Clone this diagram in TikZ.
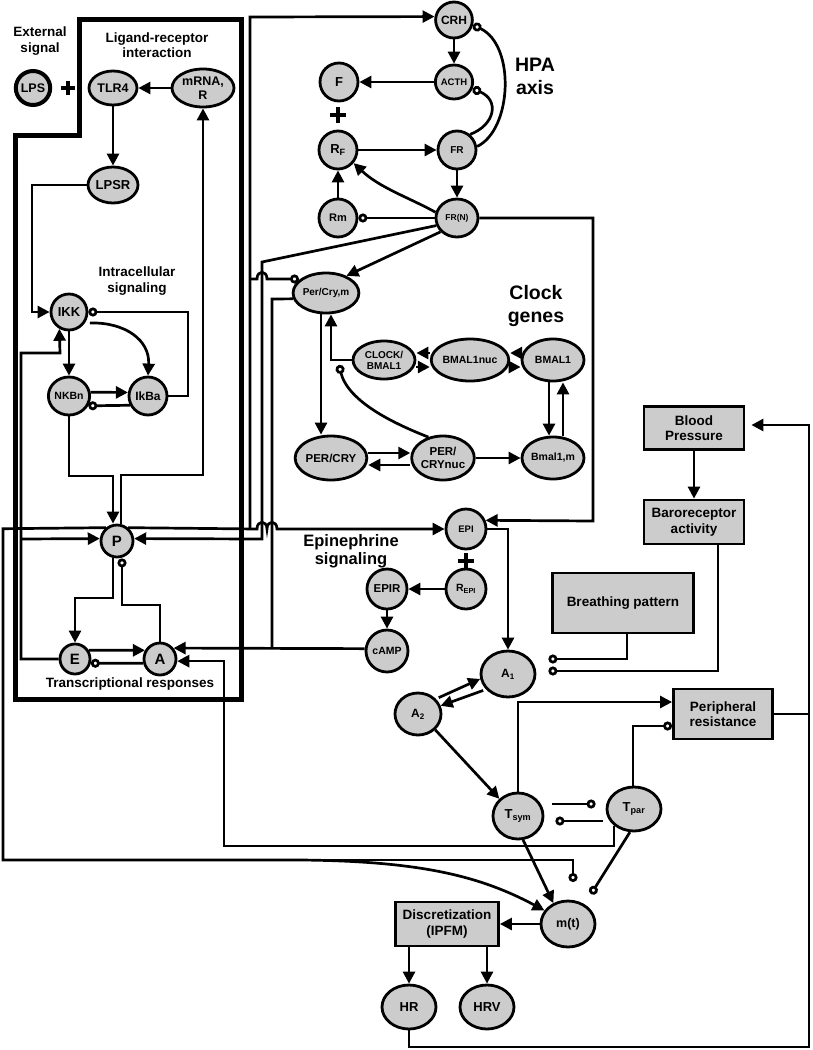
\documentclass[tikz,border=0pt]{standalone}
\usepackage{fontspec}
\setmainfont{Liberation Sans}
\usetikzlibrary{arrows.meta,shapes.geometric,calc}
\begin{document}
\begin{tikzpicture}[x=1pt,y=-1pt,
  nd/.style 2 args={ellipse, draw, line width=2.8pt, fill=black!20, inner sep=0pt, minimum width=#1pt, minimum height=#2pt, align=center},
  fs/.style 2 args={font=\bfseries\fontsize{#1}{#2}\selectfont},
  bx/.style 2 args={rectangle, draw, line width=2.8pt, fill=black!20, inner sep=0pt, minimum width=#1pt, minimum height=#2pt, align=center, font=\bfseries\fontsize{13.5}{15.5}\selectfont},
  ln/.style={line width=2.7pt},
  ar/.style={ln, -{Triangle[length=12pt,width=12pt]}},
  inh/.style={ln, -{Circle[length=9pt,width=9pt,fill=white]}},
  lbl/.style={align=center},
  plus/.style={line width=4pt},
]
\useasboundingbox (0,0) rectangle (812,1050);

% big boundary box
\draw[line width=5pt] (79,19) -- (241,19) -- (241,699) -- (15,699) -- (15,135) -- (79,135) -- cycle;

% labels
\node[lbl, fs={13.5}{16}] (tExt) at (40,41) {External\\signal};
\node[lbl, fs={13.5}{15}] (tLig) at (157,45) {Ligand-receptor\\interaction};
\node[lbl, fs={13.5}{16}] (tInt) at (137,281) {Intracellular\\signaling};
\node[lbl, fs={19.5}{23}] (tHPA) at (535,76) {HPA\\axis};
\node[lbl, fs={19.5}{23}] (tClk) at (536,306) {Clock\\genes};
\node[lbl, fs={16.5}{18}] (tEpi) at (351,551) {Epinephrine\\signaling};
\node[lbl, fs={13.5}{15}] (tTr) at (130,684) {Transcriptional responses};

% inflammation nodes
\node[nd={34}{34}, line width=4pt, fs={12.5}{13}] (LPS) at (33,88) {LPS};
\node[nd={48}{34}, fs={12.5}{13}] (TLR4) at (113,88) {TLR4};
\node[nd={62}{38}, fs={12.5}{13.5}] (mRNA) at (203,88) {mRNA,\\R};
\node[nd={50}{36}, fs={13}{14}] (LPSR) at (113,185) {LPSR};
\node[nd={36}{36}, fs={13}{14}] (IKK) at (69,312) {IKK};
\node[nd={38}{38}, fs={10.5}{11}] (NKBn) at (69,396) {NKBn};
\node[nd={38}{38}, fs={12}{12}] (IkBa) at (148,396) {IkBa};
\node[nd={32}{32}, fs={15}{15}] (P) at (117,541) {P};
\node[nd={30}{30}, fs={15}{15}] (E) at (75,659) {E};
\node[nd={32}{32}, fs={15}{15}] (A) at (160,659) {A};

% HPA nodes
\node[nd={36}{36}, fs={12}{12}] (CRH) at (454,20) {CRH};
\node[nd={34}{34}, fs={9.5}{10}] (ACTH) at (454,82) {ACTH};
\node[nd={38}{38}, fs={13}{13}] (F) at (339,82) {F};
\node[nd={38}{38}, fs={13}{13}] (RF) at (338,150) {R\textsubscript{F}};
\node[nd={38}{38}, fs={10}{10}] (FR) at (457,150) {FR};
\node[nd={42}{38}, fs={8.5}{9}] (FRN) at (457,218) {FR(N)};
\node[nd={38}{38}, fs={11}{11}] (Rm) at (338,218) {Rm};

% clock nodes
\node[nd={54}{40}, fs={10}{10}] (PerCrym) at (326,293) {Per/Cry,m};
\node[nd={62}{38}, fs={10}{11}] (CLOCK) at (384,360) {CLOCK/\\BMAL1};
\node[nd={64}{42}, fs={10.5}{11}] (BMALnuc) at (470,360) {BMAL1nuc};
\node[nd={62}{42}, fs={10.5}{11}] (BMAL) at (553,360) {BMAL1};
\node[nd={64}{44}, fs={11.5}{12}] (PERCRY) at (331,458) {PER/CRY};
\node[nd={62}{44}, fs={11.5}{12.5}] (PERnuc) at (443,458) {PER/\\CRYnuc};
\node[nd={62}{42}, fs={10.5}{11}] (Bmalm) at (553,458) {Bmal1,m};

% epinephrine nodes
\node[nd={40}{40}, fs={9.5}{10}] (EPI) at (466,529) {EPI};
\node[nd={40}{40}, fs={10.5}{11}] (REPI) at (466,589) {R\textsubscript{EPI}};
\node[nd={40}{40}, fs={11.5}{12}] (EPIR) at (387,589) {EPIR};
\node[nd={42}{42}, fs={10.5}{11}] (cAMP) at (387,651) {cAMP};

% autonomic nodes
\node[nd={54}{46}, fs={12}{12}] (Aone) at (508,674) {A\textsubscript{1}};
\node[nd={46}{42}, fs={12}{12}] (Atwo) at (418,714) {A\textsubscript{2}};
\node[nd={50}{46}, fs={13}{13}] (Tsym) at (518,816) {T\textsubscript{sym}};
\node[nd={54}{44}, fs={13}{13}] (Tpar) at (634,809) {T\textsubscript{par}};
\node[nd={54}{46}, fs={12.5}{13}] (mt) at (568,924) {m(t)};
\node[nd={54}{44}, fs={13}{13}] (HR) at (409,1007) {HR};
\node[nd={54}{44}, fs={13}{13}] (HRV) at (487,1007) {HRV};

% boxes
\node[bx={103}{44}] (Disc) at (447,924) {Discretization\\(IPFM)};
\node[bx={100}{43}] (BP) at (694,428) {Blood\\Pressure};
\node[bx={100}{44}] (Baro) at (694,522) {Baroreceptor\\activity};
\node[bx={141}{60}] (Breath) at (623,603) {Breathing pattern};
\node[bx={99}{50}] (PR) at (723,714) {Peripheral\\resistance};

% plus signs
\draw[plus] (61,88) -- (75,88) (68,81) -- (68,95);
\draw[plus] (330,115) -- (346,115) (338,107) -- (338,123);
\draw[plus] (458,561) -- (474,561) (466,553) -- (466,569);

% ligand-receptor
\draw[ar] (mRNA.west) -- (TLR4.east);
\draw[ar] (TLR4.south) -- (LPSR.north);
\draw[ar] (LPSR.west) -- (32,185) -- (32,312) -- (IKK.west);

% intracellular
\draw[ar] (IKK.south) -- (NKBn.north);
\draw[ar, shorten <=5pt] (IKK.-35) .. controls (125,322) and (150,340) .. (IkBa.north);
\draw[ar] (NKBn.10) -- (IkBa.170);
\draw[inh] (IkBa.207) -- (NKBn.-27);
\draw[inh] (IkBa.east) -- (188,396) -- (188,312) -- (IKK.east);
\draw[ar] (NKBn.south) -- (69,476) -- (113,476) -- (P.north -| 113,0);
\draw[ar] (P.north -| 121,0) -- (121,475) -- (203,475) -- (mRNA.south);

% transcriptional
\draw[ar] (E.west) -- (21,659) -- (21,353) -- (60,353) -- (IKK.240);
\draw[ar] (21,539) -- (P.172);
\draw[ar] (P.south -| 113,0) -- (113,598) -- (75,598) -- (E.north);
\draw[inh] (A.north) -- (160,605) -- (122,605) -- (P.south -| 122,0);
\draw[ar] (E.32) -- (A.150);
\draw[inh] (A.194) -- (E.-15);

% P to heart and to EPI / CRH
\draw[ar] (P.130) -- (3,528.7) -- (3,860) -- (300,860) .. controls (420,861) and (480,876) .. (mt.150);
\coordinate (mtinh) at (573,882);
\draw[inh] (3,860) -- (573,860) -- (mtinh);
\draw[ar] (P.50) -- (257,529) .. controls (257,520) and (267,520) .. (267,529) .. controls (267,520) and (277,520) .. (277,529) -- (EPI.west);
\draw[ar] (250,529) -- (250,17) -- (CRH.170);
\coordinate (pcin) at (299,279);
\draw[inh] (250,279) -- (257,279) .. controls (257,270) and (267,270) .. (267,279) -- (pcin);

% HPA axis
\draw[ar] (CRH.south) -- (ACTH.north);
\draw[ar] (ACTH.west) -- (F.east);
\draw[ar] (RF.east) -- (FR.west);
\draw[ar] (FR.south) -- (FRN.north);
\draw[ar] (Rm.north) -- (RF.south);
\draw[inh] (FRN.west) -- (Rm.east);
\draw[ar] (FRN.165) .. controls (410,198) and (380,188) .. (RF.-40);
\draw[inh] (FR.10) .. controls (512,130) and (516,45) .. (CRH.-15);
\draw[inh] (FR.50) .. controls (495,125) and (500,100) .. (ACTH.-20);

% FR(N) outputs
\draw[ar] (FRN.200) -- (262,262) -- (262,539) -- (P.8);
\draw[ar] (FRN.220) -- (PerCrym.40);
\draw[ar] (FRN.east) -- (593,218) -- (593,521) -- (EPI.24);

% clock genes
\draw[ln] (PerCrym.190) -- (272,299) -- (272,649);
\draw[ar] (PerCrym.south -| 321,0) -- (PERCRY.north -| 321,0);
\draw[ar] (CLOCK.west) -- (331,360) -- (PerCrym.south -| 331,0);
\coordinate (clinh) at (339,365);
\draw[inh] (PERnuc.125) .. controls (395,424) and (348,402) .. (clinh);
\draw[ar] (BMALnuc.west |- 0,353) -- (CLOCK.east |- 0,353);
\draw[ar] (CLOCK.east |- 0,367) -- (BMALnuc.west |- 0,367);
\draw[ar] (BMAL.west |- 0,353) -- (BMALnuc.east |- 0,353);
\draw[ar] (BMALnuc.east |- 0,367) -- (BMAL.west |- 0,367);
\draw[ar] (BMAL.south -| 549,0) -- (Bmalm.north -| 549,0);
\draw[ar] (Bmalm.north -| 563,0) -- (BMAL.south -| 563,0);
\draw[ar] (PERCRY.east |- 0,453) -- (PERnuc.west |- 0,453);
\draw[ar] (PERnuc.west |- 0,465) -- (PERCRY.east |- 0,465);
\draw[ar] (PERnuc.east) -- (Bmalm.west);

% epinephrine
\draw[ar] (EPI.east) -- (508,529) -- (Aone.north);
\draw[ar] (REPI.west) -- (EPIR.east);
\draw[ar] (EPIR.south) -- (cAMP.north);
\draw[ar] (cAMP.174) -- (A.39);

% autonomic
\draw[ar, shorten <=3pt] (Atwo.40) -- (Aone.190);
\draw[ar, shorten <=3pt] (Aone.215) -- (Atwo.20);
\draw[ar] (Atwo.south east) -- (Tsym.north west);
\draw[ar] (Tsym.north) -- (518,702) -- (PR.west |- 0,702);
\draw[inh] (Tpar.north -| 633,0) -- (633,726) -- (PR.west |- 0,726);
\draw[inh, shorten <=8pt, shorten >=10pt] (Tsym.east |- 0,804) -- (Tpar.west |- 0,804);
\draw[inh, shorten <=3pt, shorten >=11pt] (Tpar.west |- 0,821) -- (Tsym.east |- 0,821);
\draw[ar] (Tsym.-78) -- (mt.125);
\draw[inh, shorten >=12pt] (Tpar.-100) -- (mt.50);
\draw[ar] (Tpar.south west) |- (224,846) |- (A.-7);
\draw[ar] (mt.west) -- (Disc.east);
\draw[ar] (Disc.south -| HR.north) -- (HR.north);
\draw[ar] (Disc.south -| HRV.north) -- (HRV.north);
\draw[ar, shorten >=6pt] (HR.south) -- (409,1047) -- (809,1047) -- (809,425) -- (BP.east |- 0,425);
\draw[ln] (PR.east) -- (809,714);
\draw[ar] (BP.south) -- (Baro.north);
\draw[inh] (Breath.south -| 627,0) -- (627,659) -- ($(Aone.east)+(12,-15)$);
\draw[inh] (Baro.south -| 718,0) -- (718,671) -- ($(Aone.east)+(12,-3)$);

\end{tikzpicture}
\end{document}
